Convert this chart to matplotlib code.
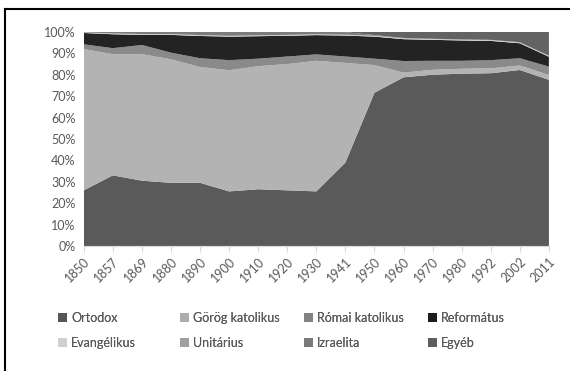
import matplotlib
matplotlib.use("Agg")
import matplotlib.pyplot as plt
import numpy as np
from matplotlib.patches import Patch
from matplotlib.lines import Line2D

plt.rcParams['font.family'] = ['Lato', 'DejaVu Sans']

years = ['1850', '1857', '1869', '1880', '1890', '1900', '1910', '1920', '1930',
         '1941', '1950', '1960', '1970', '1980', '1992', '2002', '2011']

# share of each denomination, percent
ortodox     = [26.0, 33.0, 30.5, 29.5, 29.5, 25.5, 26.5, 26.0, 25.5, 39.0, 71.6, 78.8, 80.0, 80.5, 80.7, 82.2, 77.6]
gorog_kat   = [66.0, 56.6, 59.1, 57.7, 54.1, 56.6, 57.5, 59.0, 61.0, 46.5, 12.9, 2.2, 2.3, 2.3, 2.3, 2.1, 2.3]
romai_kat   = [2.2, 2.8, 4.3, 3.1, 4.1, 4.7, 3.5, 3.5, 3.0, 3.0, 3.0, 5.4, 4.2, 3.7, 3.8, 3.4, 3.9]
reformatus  = [5.3, 6.5, 4.7, 8.3, 10.4, 11.0, 10.5, 9.7, 9.0, 9.8, 10.3, 10.2, 9.8, 9.5, 9.0, 7.0, 4.6]
evangelikus = [0.2, 0.3, 0.3, 0.3, 0.3, 0.3, 0.3, 0.3, 0.3, 0.3, 0.3, 0.3, 0.3, 0.3, 0.3, 0.3, 0.3]
unitarius   = [0.1, 0.1, 0.1, 0.1, 0.1, 0.1, 0.1, 0.1, 0.1, 0.1, 0.1, 0.1, 0.1, 0.1, 0.1, 0.1, 0.1]
izraelita   = [0.2, 0.7, 1.0, 1.0, 1.5, 1.8, 1.6, 1.4, 1.1, 1.2, 0.3, 0.2, 0.1, 0.1, 0.1, 0.1, 0.1]
egyeb       = [0.0, 0.0, 0.0, 0.0, 0.0, 0.0, 0.0, 0.0, 0.0, 0.1, 1.5, 2.8, 3.2, 3.5, 3.7, 4.8, 11.1]

names = ['Ortodox', 'Görög katolikus', 'Római katolikus', 'Református',
         'Evangélikus', 'Unitárius', 'Izraelita', 'Egyéb']
colors = ['#5a5a5a', '#b3b3b3', '#8a8a8a', '#232323',
          '#d6d6d6', '#a3a3a3', '#7c7c7c', '#636363']
legend_colors = ['#555555', '#adadad', '#838383', '#1c1c1c',
                 '#d0d0d0', '#a0a0a0', '#7a7a7a', '#5e5e5e']

series = np.array([ortodox, gorog_kat, romai_kat, reformatus,
                   evangelikus, unitarius, izraelita, egyeb])
series = series / series.sum(axis=0) * 100

fig = plt.figure(figsize=(5.7, 3.71), dpi=100)
ax = fig.add_axes([0.147, 0.337, 0.816, 0.577])

x = np.arange(len(years))
ax.stackplot(x, series, colors=colors, linewidth=0)

ax.set_xlim(0, len(years) - 1)
ax.set_ylim(0, 100)
ax.set_yticks(np.arange(0, 101, 10))
ax.set_yticklabels([f'{v}%' for v in range(0, 101, 10)])
ax.set_xticks(x)
ax.set_xticklabels(years, rotation=45, ha='right', va='top', rotation_mode='anchor')
ax.tick_params(axis='both', colors='#d9d9d9', labelcolor='#595959', labelsize=9)
ax.tick_params(axis='y', length=0, pad=6)
ax.tick_params(axis='x', length=4, pad=3)
for s in ax.spines.values():
    s.set_visible(False)
ax.spines['bottom'].set_visible(True)
ax.spines['bottom'].set_color('#d9d9d9')

# outer frame (left and top edge)
fig.add_artist(Line2D([0.009, 0.009], [0.0, 0.975], transform=fig.transFigure, color='black', lw=1.5))
fig.add_artist(Line2D([0.009, 1.0], [0.975, 0.975], transform=fig.transFigure, color='black', lw=1.5))

# legend: 4 equal-width columns, 2 rows
col_x = [62, 184, 308, 432]
for c in range(4):
    handles = [Patch(facecolor=legend_colors[c], edgecolor='none'),
               Patch(facecolor=legend_colors[c + 4], edgecolor='none')]
    labels = [names[c], names[c + 4]]
    leg = fig.legend(handles, labels, loc='upper left',
                     bbox_to_anchor=((col_x[c] - 4) / 570, 1 - 312 / 371),
                     frameon=False, fontsize=9, labelcolor='#595959',
                     handlelength=0.75, handleheight=0.75, handletextpad=0.3,
                     labelspacing=1.05, borderpad=0, borderaxespad=0)
    fig.add_artist(leg)

fig.savefig('out.png', dpi=100)
